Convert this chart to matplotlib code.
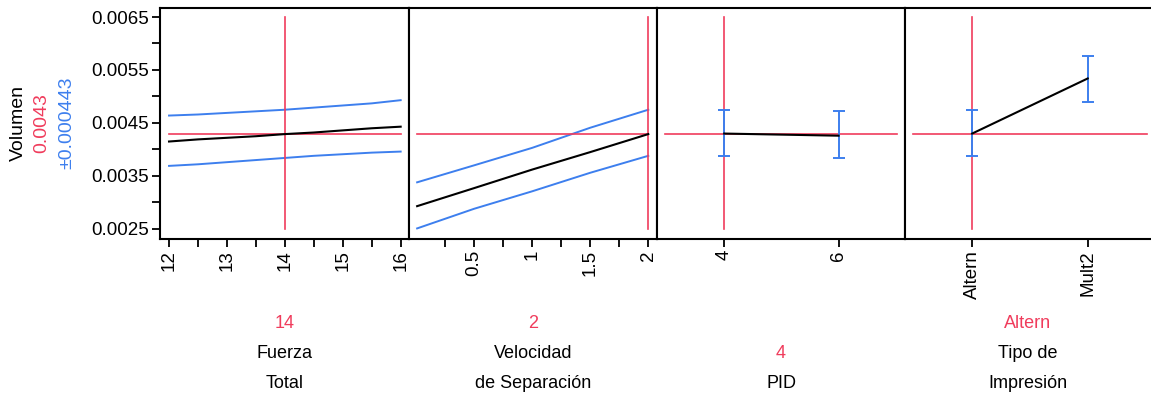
import matplotlib
matplotlib.use("Agg")
import matplotlib.pyplot as plt

plt.rcParams['font.family'] = ['Liberation Sans', 'DejaVu Sans']

RED = '#F03C5C'
BLUE = '#3D7FEE'

# ---- data
pred_value = 0.0043
pred_ci = 0.000443

fuerza_x = [12, 12.5, 13, 13.5, 14, 14.5, 15, 15.5, 16]
fuerza_mid = [0.00415, 0.00419, 0.00422, 0.00425, 0.00429, 0.00432, 0.00436, 0.00440, 0.00443]
fuerza_up = [0.00464, 0.00466, 0.00469, 0.00472, 0.00475, 0.00479, 0.00483, 0.00487, 0.00493]
fuerza_lo = [0.00369, 0.00372, 0.00376, 0.00380, 0.00384, 0.00388, 0.00391, 0.00394, 0.00396]
fuerza_cur = 14

vel_x = [0.01, 0.5, 1.0, 1.5, 2.0]
vel_mid = [0.00293, 0.00327, 0.00362, 0.00395, 0.00429]
vel_up = [0.00338, 0.00370, 0.00403, 0.00441, 0.00475]
vel_lo = [0.00251, 0.00288, 0.00321, 0.00356, 0.00388]
vel_cur = 2

pid_x = [4, 6]
pid_mid = [0.00430, 0.00426]
pid_up = [0.00475, 0.00472]
pid_lo = [0.00387, 0.00383]
pid_cur = 4

tipo_cats = ['Altern', 'Mult2']
tipo_mid = [0.00430, 0.00534]
tipo_up = [0.00475, 0.00577]
tipo_lo = [0.00387, 0.00489]

bottom_labels = [('14', 'Fuerza', 'Total'),
                 ('2', 'Velocidad', 'de Separación'),
                 (None, '4', 'PID'),
                 ('Altern', 'Tipo de', 'Impresión')]

W, H = 1151, 396
fig = plt.figure(figsize=(W / 100, H / 100), dpi=100)


def px_box(x0, y0, x1, y1):
    return [x0 / W, 1 - y1 / H, (x1 - x0) / W, (y1 - y0) / H]


edges = [160, 409, 657, 905, 1153]
axes = []
for i in range(4):
    ax = fig.add_axes(px_box(edges[i], 8, edges[i + 1], 239))
    ax.set_ylim(0.00231, 0.00667)
    for s in ax.spines.values():
        s.set_linewidth(1.5)
    ax.tick_params(axis='x', which='both', direction='out', length=6, width=1.3,
                   labelsize=13.5, labelrotation=90, pad=2)
    if i == 0:
        ax.tick_params(axis='y', which='both', direction='out', length=6, width=1.3,
                       labelsize=13.5, pad=2)
        ax.set_yticks([0.0025, 0.0035, 0.0045, 0.0055, 0.0065])
        ax.set_yticks([0.003, 0.004, 0.005, 0.006], minor=True)
        ax.set_yticklabels(['0.0025', '0.0035', '0.0045', '0.0055', '0.0065'])
    else:
        ax.tick_params(axis='y', which='both', left=False, labelleft=False)
    axes.append(ax)
axes[3].spines['right'].set_visible(False)

# panel 1: Fuerza Total
ax = axes[0]
ax.set_xlim(11.844, 16.144)
ax.set_xticks([12, 13, 14, 15, 16])
ax.set_xticks([12.5, 13.5, 14.5, 15.5], minor=True)
ax.plot(fuerza_x, fuerza_up, color=BLUE, lw=1.4)
ax.plot(fuerza_x, fuerza_lo, color=BLUE, lw=1.4)
ax.plot([fuerza_x[0], fuerza_x[-1]], [pred_value, pred_value], color=RED, lw=1.2)
ax.plot([fuerza_cur, fuerza_cur], [0.0025, 0.0065], color=RED, lw=1.2)
ax.plot(fuerza_x, fuerza_mid, color='black', lw=1.5)

# panel 2: Velocidad de Separacion
ax = axes[1]
ax.set_xlim(-0.06, 2.075)
ax.set_xticks([0.5, 1, 1.5, 2])
ax.set_xticklabels(['0.5', '1', '1.5', '2'])
ax.set_xticks([0.25, 0.75, 1.25, 1.75], minor=True)
ax.plot(vel_x, vel_up, color=BLUE, lw=1.4)
ax.plot(vel_x, vel_lo, color=BLUE, lw=1.4)
ax.plot([vel_x[0], vel_x[-1]], [pred_value, pred_value], color=RED, lw=1.2)
ax.plot([vel_cur, vel_cur], [0.0025, 0.0065], color=RED, lw=1.2)
ax.plot(vel_x, vel_mid, color='black', lw=1.5)

# panel 3: PID
ax = axes[2]
ax.set_xlim(2.825, 7.162)
ax.set_xticks(pid_x)
ax.plot([2.965, 7.02], [pred_value, pred_value], color=RED, lw=1.2)
ax.plot([pid_cur, pid_cur], [0.0025, 0.0065], color=RED, lw=1.2)
ax.errorbar(pid_x, pid_mid,
            yerr=[[m - l for m, l in zip(pid_mid, pid_lo)], [u - m for m, u in zip(pid_mid, pid_up)]],
            fmt='none', ecolor=BLUE, elinewidth=1.4, capsize=4, capthick=1.4)
ax.plot(pid_x, pid_mid, color='black', lw=1.5)

# panel 4: Tipo de Impresion
ax = axes[3]
tipo_pos = list(range(len(tipo_cats)))
ax.set_xlim(-0.581, 1.565)
ax.set_xticks(tipo_pos)
ax.set_xticklabels(tipo_cats)
ax.plot([-0.51, 1.51], [pred_value, pred_value], color=RED, lw=1.2)
ax.plot([0, 0], [0.0025, 0.0065], color=RED, lw=1.2)
ax.errorbar(tipo_pos, tipo_mid,
            yerr=[[m - l for m, l in zip(tipo_mid, tipo_lo)], [u - m for m, u in zip(tipo_mid, tipo_up)]],
            fmt='none', ecolor=BLUE, elinewidth=1.4, capsize=4, capthick=1.4)
ax.plot(tipo_pos, tipo_mid, color='black', lw=1.5)

# y label block
fig.text(18 / W, 1 - 123 / H, 'Volumen', rotation=90, ha='center', va='center', fontsize=14)
fig.text(42 / W, 1 - 123 / H, f'{pred_value:.4f}', rotation=90, ha='center', va='center',
         fontsize=14, color=RED)
fig.text(67 / W, 1 - 123 / H, f'±{pred_ci:.6f}', rotation=90, ha='center', va='center',
         fontsize=14, color=BLUE)

# bottom factor labels
for i, (val, l1, l2) in enumerate(bottom_labels):
    cx = (edges[i] + min(edges[i + 1], W)) / 2 / W
    if val is not None:
        fig.text(cx, 1 - 323 / H, val, ha='center', va='center', fontsize=13, color=RED)
        fig.text(cx, 1 - 353 / H, l1, ha='center', va='center', fontsize=13)
    else:
        fig.text(cx, 1 - 353 / H, l1, ha='center', va='center', fontsize=13, color=RED)
    fig.text(cx, 1 - 383 / H, l2, ha='center', va='center', fontsize=13)

fig.savefig('out.png', dpi=100)
